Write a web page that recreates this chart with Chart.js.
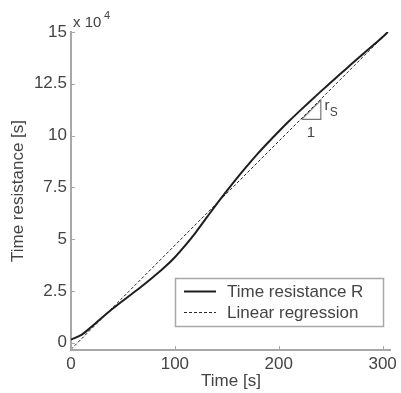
<!DOCTYPE html>
<html>
<head>
<meta charset="utf-8">
<script src="https://cdn.jsdelivr.net/npm/chart.js@4.4.1/dist/chart.umd.min.js"></script>
<style>
  html, body { margin: 0; padding: 0; background: #fff; }
  #wrap { width: 401px; height: 393px; }
</style>
</head>
<body>
<div id="wrap"><canvas id="c" width="401" height="393"></canvas></div>
<script>
// time [s]
const timeS = [0, 10, 20, 30, 40, 50, 60, 70, 80, 90, 100, 110, 120, 130, 140, 150,
  160, 170, 180, 190, 200, 210, 220, 230, 240, 250, 260, 270, 280, 290, 300, 305];
// time resistance R [x 10^4 s]
const resistance = [0.15, 0.38, 0.78, 1.22, 1.64, 2.03, 2.41, 2.8, 3.21, 3.64, 4.13, 4.7,
  5.32, 6.0, 6.68, 7.33, 7.96, 8.56, 9.14, 9.68, 10.2, 10.7, 11.18, 11.65, 12.11, 12.56,
  13.01, 13.45, 13.89, 14.32, 14.76, 15.0];
// linear regression end points
const regTime = [0, 305];
const regValue = [-0.32, 15.0];
// slope triangle (r_S over 1)
const triTime = [222, 240.5, 240.5, 222];
const triValue = [10.78, 10.78, 11.7, 10.78];

const xTicks = [0, 100, 200, 300];
const yTicks = [0, 2.5, 5, 7.5, 10, 12.5, 15];

const FONT = '"Liberation Sans", Arial, sans-serif';
const TXT = '#444';
const AXIS = '#a8a8a8';

const pts = (xs, ys) => xs.map((x, i) => ({ x: x, y: ys[i] }));

// legend box, multiplier, tick marks, slope labels
const extras = {
  id: 'extras',
  afterDraw(chart) {
    const ctx = chart.ctx;
    const xs = chart.scales.x, ys = chart.scales.y;
    const ca = chart.chartArea;
    ctx.save();
    // inward tick marks
    ctx.strokeStyle = AXIS;
    ctx.lineWidth = 1;
    xTicks.forEach(v => {
      const px = Math.round(xs.getPixelForValue(v)) + 0.5;
      ctx.beginPath(); ctx.moveTo(px, ca.bottom); ctx.lineTo(px, ca.bottom - 4); ctx.stroke();
    });
    yTicks.forEach(v => {
      const py = Math.round(ys.getPixelForValue(v)) + 0.5;
      ctx.beginPath(); ctx.moveTo(ca.left, py); ctx.lineTo(ca.left + 4, py); ctx.stroke();
    });
    // x 10^4
    ctx.fillStyle = TXT;
    ctx.textBaseline = 'alphabetic';
    ctx.textAlign = 'left';
    ctx.font = '15px ' + FONT;
    ctx.fillText('x 10', ca.left + 2, ca.top - 5);
    ctx.font = '11px ' + FONT;
    ctx.fillText('4', ca.left + 33, ca.top - 13);
    // slope labels
    ctx.font = '15px ' + FONT;
    ctx.fillText('1', xs.getPixelForValue(227), ys.getPixelForValue(9.95));
    ctx.fillText('r', xs.getPixelForValue(244), ys.getPixelForValue(11.25));
    ctx.font = '12px ' + FONT;
    ctx.fillText('S', xs.getPixelForValue(249), ys.getPixelForValue(10.95));
    // legend
    const bx = 175.5, by = 278.5, bw = 208, bh = 48;
    ctx.fillStyle = '#fff';
    ctx.fillRect(bx, by, bw, bh);
    ctx.strokeStyle = AXIS;
    ctx.lineWidth = 1.5;
    ctx.strokeRect(bx, by, bw, bh);
    const rows = chart.data.datasets.filter(d => d.inLegend);
    rows.forEach((d, i) => {
      const y = by + 13 + i * 21;
      ctx.strokeStyle = d.borderColor;
      ctx.lineWidth = d.borderWidth;
      ctx.setLineDash(d.borderDash || []);
      ctx.beginPath(); ctx.moveTo(184, y); ctx.lineTo(216, y); ctx.stroke();
      ctx.setLineDash([]);
      ctx.fillStyle = TXT;
      ctx.font = '17px ' + FONT;
      ctx.textBaseline = 'middle';
      ctx.fillText(d.label, 227, y + 1);
    });
    ctx.restore();
  }
};

new Chart(document.getElementById('c'), {
  type: 'line',
  data: {
    datasets: [
      {
        label: 'Time resistance R',
        inLegend: true,
        data: pts(timeS, resistance),
        borderColor: '#1e1e1e',
        borderWidth: 2,
        pointRadius: 0,
        cubicInterpolationMode: 'monotone'
      },
      {
        label: 'Linear regression',
        inLegend: true,
        data: pts(regTime, regValue),
        borderColor: '#2a2a2a',
        borderWidth: 1,
        borderDash: [3, 2],
        pointRadius: 0
      },
      {
        label: 'slope',
        data: pts(triTime, triValue),
        borderColor: '#777',
        borderWidth: 1.2,
        pointRadius: 0
      }
    ]
  },
  options: {
    responsive: false,
    animation: false,
    layout: { padding: { top: 32, right: 8, left: 0, bottom: 0 } },
    plugins: { legend: { display: false }, tooltip: { enabled: false } },
    scales: {
      x: {
        type: 'linear',
        min: 0,
        max: 308,
        afterFit: s => { s.height = 43; },
        afterBuildTicks: s => { s.ticks = xTicks.map(v => ({ value: v })); },
        border: { color: AXIS, width: 2 },
        grid: { display: false, drawTicks: false },
        ticks: { color: TXT, font: { family: FONT, size: 17 }, padding: 4, maxRotation: 0 },
        title: { display: true, text: 'Time [s]', color: TXT, font: { family: FONT, size: 17 }, padding: { top: 0, bottom: 1 } }
      },
      y: {
        type: 'linear',
        min: -0.35,
        max: 15,
        afterFit: s => { s.width = 71; },
        afterBuildTicks: s => { s.ticks = yTicks.map(v => ({ value: v })); },
        border: { color: AXIS, width: 2 },
        grid: { display: false, drawTicks: false },
        ticks: { color: TXT, font: { family: FONT, size: 17 }, padding: 4 },
        title: { display: true, text: 'Time resistance [s]', color: TXT, font: { family: FONT, size: 17 }, padding: { top: 8, bottom: 0 } }
      }
    }
  },
  plugins: [extras]
});
</script>
</body>
</html>
